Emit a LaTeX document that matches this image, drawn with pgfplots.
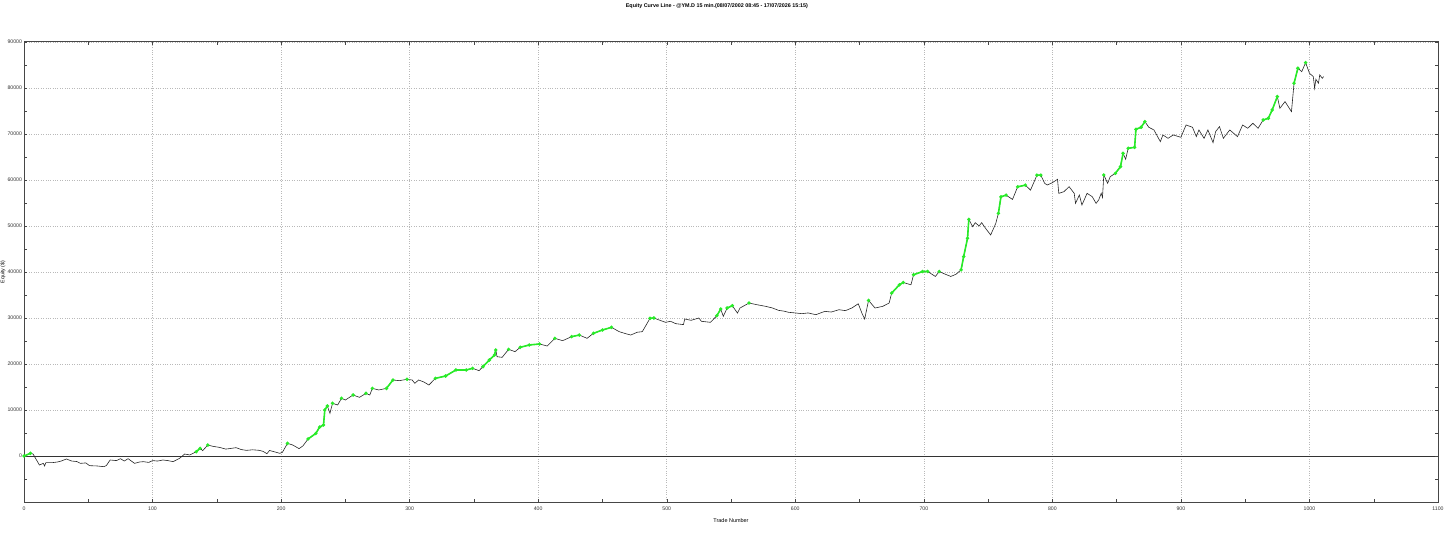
\documentclass[border=0pt]{standalone}
\usepackage{fontspec}
\setmainfont{Liberation Sans}
\usepackage{pgfplots}
\usepackage{pgfplotstable}
\pgfplotsset{compat=1.18}

\definecolor{eqgreen}{RGB}{40,235,40}
\definecolor{frame}{RGB}{70,70,70}

% trade number, equity, equity at new highs (nan otherwise)
\pgfplotstableread{
x y g
0 0 0
5 580 580
7 450 nan
12 -1960 nan
15 -1600 nan
16 -2170 nan
17 -1450 nan
22 -1450 nan
26 -1300 nan
29 -1100 nan
33 -650 nan
37 -1090 nan
41 -1200 nan
44 -1600 nan
48 -1500 nan
51 -2100 nan
57 -2170 nan
62 -2320 nan
64 -2100 nan
67 -870 nan
72 -1000 nan
75 -580 nan
78 -1090 nan
81 -580 nan
86 -1600 nan
90 -1300 nan
93 -1230 nan
97 -1400 nan
100 -1000 nan
104 -1100 nan
108 -870 nan
112 -1000 nan
116 -1230 nan
121 -510 nan
125 430 nan
129 220 nan
134 940 940
137 1670 1670
139 1160 nan
143 2390 2390
147 2100 nan
152 1880 nan
157 1500 nan
161 1650 nan
165 1810 nan
169 1400 nan
173 1230 nan
178 1350 nan
183 1230 nan
186 1000 nan
189 500 nan
191 1200 nan
195 900 nan
199 580 nan
201 800 nan
205 2750 2750
209 2390 nan
214 1600 nan
217 2200 nan
221 3700 3700
227 4900 4900
230 6300 6300
233 6740 6740
234 10000 10000
236 10870 10870
238 9280 nan
240 11450 11450
244 11090 nan
247 12540 12540
250 12170 nan
256 13260 13260
261 12750 nan
266 13620 13620
269 13260 nan
271 14710 14710
276 14350 nan
282 14710 14710
287 16520 16520
292 16380 nan
298 16670 16670
302 16520 nan
304 15800 nan
307 16520 nan
311 16100 nan
315 15430 nan
320 16880 16880
328 17390 17390
336 18700 18700
344 18700 18700
349 19060 19060
354 18550 nan
357 19420 19420
362 20870 20870
366 21960 21960
367 23040 23040
368 21590 nan
372 21450 nan
377 23190 23190
382 22680 nan
386 23620 23620
393 24130 24130
401 24350 24350
407 23910 nan
413 25580 25580
419 25070 nan
426 25940 25940
432 26300 26300
438 25580 nan
443 26670 26670
450 27390 27390
457 27970 27970
463 27030 nan
468 26600 nan
472 26300 nan
477 26900 nan
481 27030 nan
487 29930 29930
490 30000 30000
494 29570 nan
499 29060 nan
503 29280 nan
507 28770 nan
513 28560 nan
514 29780 nan
519 29500 nan
525 30000 nan
527 29280 nan
534 29060 nan
539 30500 30500
542 31950 31950
544 30360 nan
547 32170 32170
551 32670 32670
555 31080 nan
557 32170 nan
564 33250 33250
570 32900 nan
577 32530 nan
582 32200 nan
587 31660 nan
591 31500 nan
595 31230 nan
600 31100 nan
605 30940 nan
610 31100 nan
616 30720 nan
623 31440 nan
628 31300 nan
634 31800 nan
639 31600 nan
644 32170 nan
649 33100 nan
652 30940 nan
654 29780 nan
657 33830 33830
662 32170 nan
668 32530 nan
673 33250 nan
675 35420 35420
681 37220 37220
684 37720 37720
690 37220 nan
692 39390 39390
699 40110 40110
703 40110 40110
709 39030 nan
712 40110 40110
716 39600 nan
721 39030 nan
725 39500 nan
729 40470 40470
731 43360 43360
734 47330 47330
735 51440 51440
738 49850 nan
740 50720 nan
743 50000 nan
745 50720 nan
748 49500 nan
752 48050 nan
756 50580 nan
758 52740 52740
760 56350 56350
764 56710 56710
769 55770 nan
773 58520 58520
779 58880 58880
783 57800 nan
788 61050 61050
791 61050 61050
794 59280 nan
796 58910 nan
800 59420 nan
804 60150 nan
805 57100 nan
809 57460 nan
813 58550 nan
817 57100 nan
818 54930 nan
821 56740 nan
823 54560 nan
827 57100 nan
831 56380 nan
834 54930 nan
836 55650 nan
838 57100 nan
839 56230 nan
840 61090 61090
843 59280 nan
845 60730 nan
849 61450 61450
853 62900 62900
855 65800 65800
857 64500 nan
859 66890 66890
864 67100 67100
865 71020 71020
869 71460 71460
872 72690 72690
875 71460 nan
879 70880 nan
884 68340 nan
886 69790 nan
890 69060 nan
894 69790 nan
900 69280 nan
904 71960 nan
909 71460 nan
912 69430 nan
914 70880 nan
918 69060 nan
921 70880 nan
925 68120 nan
927 70510 nan
930 71600 nan
933 69060 nan
938 70880 nan
944 69430 nan
948 71960 nan
952 71240 nan
956 72330 nan
960 71240 nan
964 73050 73050
968 73410 73410
971 75230 75230
975 78130 78130
977 75590 nan
981 77040 nan
986 74860 nan
988 81030 81030
991 84290 84290
994 83560 nan
997 85520 85520
1000 83200 nan
1003 82480 nan
1004 79940 nan
1005 81900 nan
1007 81030 nan
1008 82840 nan
1010 82110 nan
1011 82480 nan
}\equity

\begin{document}
\begin{tikzpicture}
\useasboundingbox (-24bp,-35bp) rectangle (1432bp,502bp);
\begin{axis}[
    at={(0,0)}, anchor=south west,
    scale only axis,
    width=1414bp, height=460bp,
    xmin=0, xmax=1100, ymin=-10000, ymax=90000,
    xtick={0,100,...,1100},
    ytick={0,10000,...,90000},
    minor x tick num=1,
    minor ytick={-5000,5000,15000,25000,35000,45000,55000,65000,75000,85000},
    tick align=inside,
    major tick length=3bp, minor tick length=3bp,
    tick style={frame, line width=0.4pt},
    axis line style={frame, line width=1pt},
    grid=major,
    major grid style={gray!55, dotted, line width=0.6pt},
    extra y ticks={0},
    extra y tick labels={},
    extra y tick style={grid=major, major grid style={black!80, solid, line width=0.7pt}},
    scaled ticks=false,
    /pgf/number format/.cd, fixed, set thousands separator={}, assume math mode=true,
    /pgfplots/.cd,
    ticklabel style={font=\fontsize{5.2}{6}\selectfont, text=black!80},
    xticklabel style={yshift=-1bp},
    yticklabel style={xshift=1.5bp},
    xlabel={Trade Number},
    xlabel style={font=\fontsize{5.5}{6}\selectfont, at={(axis description cs:0.5,0)}, anchor=north, yshift=-13bp},
    ylabel={Equity (\$)},
    ylabel style={font=\fontsize{5.2}{6}\selectfont, inner sep=0pt, at={(axis description cs:-0.0168,0.5)}, anchor=north},
    title={Equity Curve Line - @YM.D 15 min.(08/07/2002 08:45 - 17/07/2026 15:15)},
    title style={font=\bfseries\fontsize{5.4}{6}\selectfont, at={(axis description cs:0.49,1)}, anchor=south, yshift=24bp},
    unbounded coords=jump,
]
\addplot[black!85, line width=0.6pt] table[x=x, y=y] {\equity};
\addplot[eqgreen, line width=1.6pt, mark=*, mark size=0.8pt] table[x=x, y=g] {\equity};
\end{axis}
\end{tikzpicture}
\end{document}
